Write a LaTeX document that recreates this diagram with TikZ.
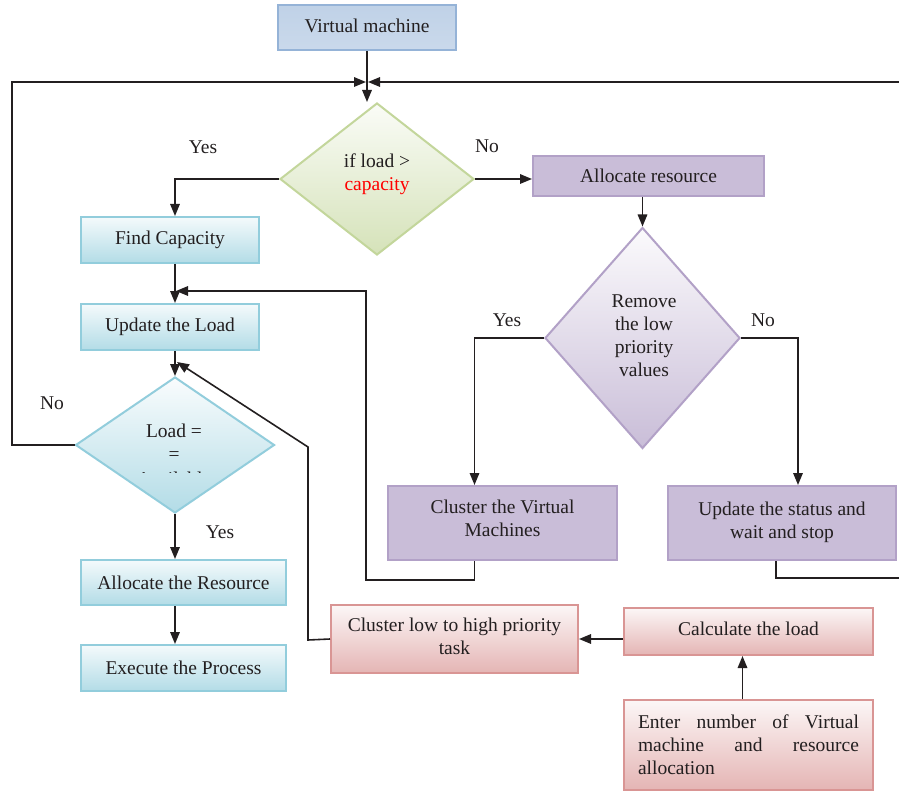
\documentclass[tikz,border=0pt]{standalone}
\usepackage{fontspec}
\setmainfont{Liberation Serif}
\usetikzlibrary{shapes.geometric,arrows.meta,calc}
\definecolor{txt}{HTML}{231F20}
\definecolor{lk}{HTML}{231F20}
\definecolor{vmB}{HTML}{95B3D7}
\definecolor{cyB}{HTML}{92CDDC}
\definecolor{puB}{HTML}{B2A1C7}
\definecolor{piB}{HTML}{D99594}
\definecolor{grB}{HTML}{C3D69B}
\newcommand{\dpx}[1]{\rule[-#1pt]{0pt}{#1pt}}
\tikzset{
  base/.style={line width=2pt, inner sep=0pt, align=center, text=txt,
    font=\fontsize{19.5}{23}\selectfont},
  vmbox/.style={base, draw=vmB, top color=vmB!60, middle color=vmB!22, bottom color=vmB!50},
  cybox/.style={base, draw=cyB, top color=cyB!10, bottom color=cyB!70},
  pubox/.style={base, draw=puB, top color=puB!70, middle color=puB!22, bottom color=puB!70},
  pibox/.style={base, draw=piB, top color=piB!8, bottom color=piB!70},
  dia/.style={base, diamond, aspect=1},
  grdia/.style={dia, draw=grB, top color=grB!8, bottom color=grB!70},
  cydia/.style={dia, draw=cyB, top color=cyB!5, bottom color=cyB!70},
  pudia/.style={dia, draw=puB, top color=puB!5, bottom color=puB!70},
  lab/.style={text=txt, font=\fontsize{19.5}{23}\selectfont, inner sep=0pt},
  ln/.style={line width=1.6pt, draw=lk},
  arr/.style={ln, -{Triangle[length=12pt,width=9.5pt]}},
}
\begin{document}
\begin{tikzpicture}[x=1pt,y=-1pt]
\path[use as bounding box, fill=white] (0,0) rectangle (899,794);

% nodes
\node[vmbox, minimum width=178, minimum height=45] (vm) at (367,27.5) {Virtual machine\dpx{4}};
\node[grdia, minimum width=194, minimum height=152] (d1) at (377,179) {};
\node[lab, align=center] (d1t) at (377,174.5) {if load >\\\textcolor{red}{capacity}};
\node[cybox, minimum width=178, minimum height=46] (fc) at (170,240) {Find Capacity};
\node[cybox, minimum width=178, minimum height=46] (ul) at (170,327) {Update the Load};
\node[cydia, minimum width=199, minimum height=136] (ld) at (175,445) {};
\node[lab, align=center] (ldt) at (174,442) {Load =\\=};
\begin{scope}
  \clip (120,455) rectangle (230,472);
  \node[lab] (ldc) at (174,479) {Available};
\end{scope}
\node[cybox, minimum width=205, minimum height=45] (arl) at (183.5,582.5) {Allocate the Resource};
\node[cybox, minimum width=205, minimum height=46] (ex) at (183.5,668) {Execute the Process};
\node[pubox, minimum width=231, minimum height=40] (ar) at (648.5,176) {Allocate resource};
\node[pudia, minimum width=195, minimum height=221] (d2) at (642.5,338) {};
\node[lab, align=center] (d2t) at (644,336) {Remove\\the low\\priority\\values};
\node[pubox, minimum width=229, minimum height=74] (cv) at (502.5,523) {Cluster the Virtual\\Machines\dpx{10}};
\node[pubox, minimum width=228, minimum height=74] (us) at (782,523) {Update the status and\\wait and stop\dpx{6}};
\node[pibox, minimum width=247, minimum height=68] (cl) at (454.5,639) {Cluster low to high priority\\task\dpx{6}};
\node[pibox, minimum width=249, minimum height=47] (ca) at (748.5,631.5) {Calculate the load\dpx{6}};
\node[pibox, minimum height=90, text width=221, inner xsep=14pt, align=left] (en) at (748.5,745)
  {Enter\hfill number\hfill of\hfill Virtual\\machine\hfill and\hfill resource\\allocation};

% labels
\node[lab] (y1) at (203,147) {Yes};
\node[lab] (n1) at (487,146) {No};
\node[lab] (n2) at (52,403) {No};
\node[lab] (y2) at (220,532) {Yes};
\node[lab] (y3) at (507,320) {Yes};
\node[lab] (n3) at (763,320) {No};

% coordinates
\coordinate (mL) at (366,82);
\coordinate (mR) at (368,82);
\coordinate (lc2) at (12,82);
\coordinate (re1) at (899,82);
\coordinate (re2) at (899,578);
\coordinate (cr1) at (366,580);
\coordinate (cr2) at (366,291);
\coordinate (cr3) at (176,291);
\coordinate (cp1) at (308,640);
\coordinate (cp2) at (308,447);
\coordinate (cp3) at (177,362);

% connectors
\draw[arr] (vm.south) -- (vm.south |- d1.north);
\draw[arr] (ld.west) -- (ld.west -| lc2) -- (lc2) -- (mL);
\draw[arr] (re1) -- (mR);
\draw[arr] (d1.west) -| ([xshift=5pt]fc.north);
\draw[arr] (d1.east) -- (d1.east -| ar.west);
\draw[arr] ([xshift=5pt]fc.south) -- ([xshift=5pt]ul.north);
\draw[arr] ([xshift=5pt]ul.south) -- (ld.north);
\draw[arr] (ld.south) -- ([xshift=-8.5pt]arl.north);
\draw[arr] ([xshift=-8.5pt]arl.south) -- ([xshift=-8.5pt]ex.north);
\draw[arr] (ar.south -| d2.north) -- (d2.north);
\draw[arr] (d2.west) -| ([xshift=-28pt]cv.north);
\draw[arr] (d2.east) -| ([xshift=16pt]us.north);
\draw[arr] ([xshift=-28pt]cv.south) |- (cr1) -- (cr2) -- (cr3);
\draw[ln] ([xshift=-6pt]us.south) |- (re2);
\draw[arr] (cl.west) -- (cp1) -- (cp2) -- (cp3);
\draw[arr] (cl.east -| ca.west) -- (cl.east);
\draw[arr] ([xshift=-6pt]en.north) -- ([xshift=-6pt]ca.south);
\end{tikzpicture}
\end{document}
